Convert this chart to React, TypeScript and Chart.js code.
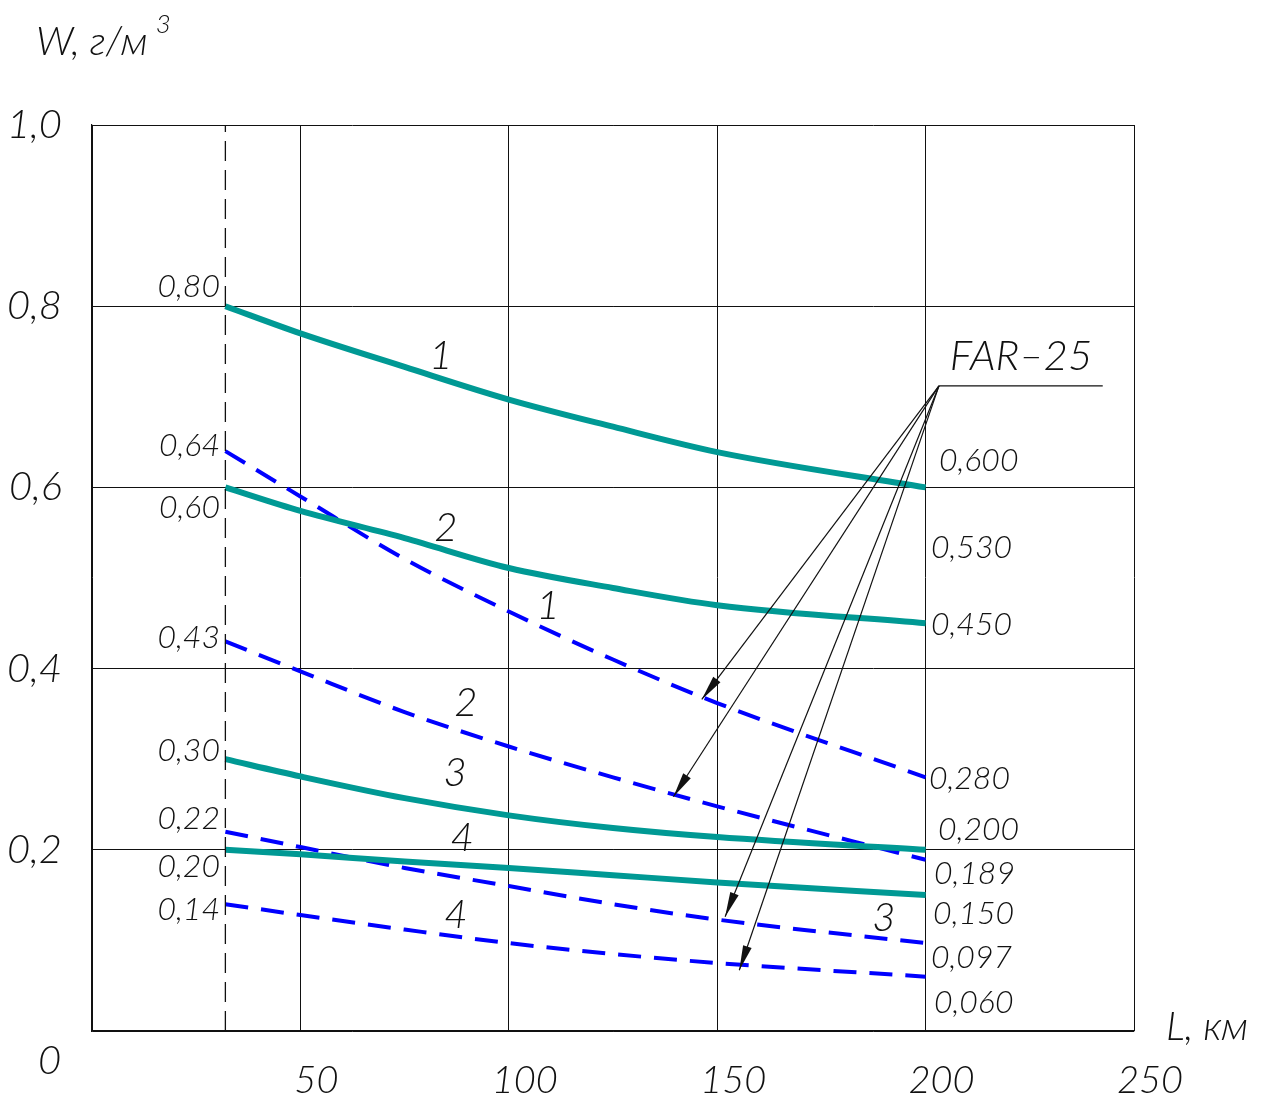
import React, { useEffect, useRef } from "react";
import { Chart, registerables } from "chart.js";

Chart.register(...registerables);

// Distance along the route, km
const distanceKm = [32, 50, 75, 100, 125, 150, 200];

// Solid curves (teal)
const solid1 = [0.8, 0.77, 0.733, 0.697, 0.667, 0.639, 0.6];
const solid2 = [0.6, 0.574, 0.544, 0.511, 0.489, 0.47, 0.45];
const solid3 = [0.3, 0.281, 0.257, 0.238, 0.224, 0.214, 0.2];
const solid4 = [0.2, 0.195, 0.187, 0.18, 0.172, 0.164, 0.15];

// Dashed curves (blue)
const dashed1 = [0.64, 0.59, 0.521, 0.463, 0.41, 0.362, 0.28];
const dashed2 = [0.43, 0.397, 0.352, 0.314, 0.28, 0.248, 0.189];
const dashed3 = [0.22, 0.203, 0.18, 0.16, 0.14, 0.123, 0.097];
const dashed4 = [0.14, 0.128, 0.112, 0.097, 0.085, 0.075, 0.06];

// Axis ticks
const xTicks = [0, 50, 100, 150, 200, 250];
const yTicks = [0, 0.2, 0.4, 0.6, 0.8, 1.0];

// Reference distance (vertical dashed line), km
const referenceKm = 32;

// Value labels at the start of the curves: text, anchor (km, W)
const leftLabels: [string, number, number][] = [
  ["0,80", 30.7, 0.822],
  ["0,64", 30.7, 0.646],
  ["0,60", 30.7, 0.578],
  ["0,43", 30.7, 0.434],
  ["0,30", 30.7, 0.309],
  ["0,22", 30.7, 0.234],
  ["0,20", 30.7, 0.181],
  ["0,14", 30.7, 0.134],
];

// Value labels at the end of the curves: text, anchor (km, W)
const rightLabels: [string, number, number][] = [
  ["0,600", 203.2, 0.629],
  ["0,530", 201.3, 0.534],
  ["0,450", 201.3, 0.448],
  ["0,280", 200.8, 0.279],
  ["0,200", 203.0, 0.222],
  ["0,189", 202.0, 0.174],
  ["0,150", 201.8, 0.129],
  ["0,097", 201.3, 0.081],
  ["0,060", 202.0, 0.031],
];

// Curve numbers: text, centre (km, W)
const curveNumbers: [string, number, number][] = [
  ["1", 83.7, 0.745],
  ["2", 84.9, 0.555],
  ["3", 87.1, 0.285],
  ["4", 88.8, 0.213],
  ["1", 109.4, 0.469],
  ["2", 89.7, 0.362],
  ["3", 190.0, 0.125],
  ["4", 87.3, 0.128],
];

// FAR-25 callout: leader origin, shelf end and arrow tips (km, W)
const calloutOrigin: [number, number] = [203.2, 0.712];
const calloutShelfEndKm = 242.5;
const calloutTextPos: [number, number] = [222.9, 0.744];
const calloutTips: [number, number][] = [
  [146.3, 0.366],
  [139.5, 0.2586],
  [151.9, 0.126],
  [155.3, 0.067],
];

const TEAL = "#009994";
const BLUE = "#0000ff";
const INK = "#111111";
const FONT = "Lato, 'DejaVu Sans', sans-serif";

const toPoints = (ys: number[]) => distanceKm.map((x, i) => ({ x, y: ys[i] }));

const fmtTick = (v: number) => v.toFixed(1).replace(".", ",");

const annotationsPlugin = {
  id: "drawingAnnotations",
  afterDraw(chart: any) {
    const { ctx } = chart;
    const xs = chart.scales.x;
    const ys = chart.scales.y;
    const P = (km: number, w: number): [number, number] => [xs.getPixelForValue(km), ys.getPixelForValue(w)];

    ctx.save();
    ctx.fillStyle = INK;
    ctx.textBaseline = "middle";

    // curve numbers
    ctx.font = `italic 300 40px ${FONT}`;
    ctx.textAlign = "center";
    curveNumbers.forEach(([t, km, w]) => {
      const [x, y] = P(km, w);
      ctx.fillText(t, x, y);
    });

    // start values
    ctx.font = `italic 300 32px ${FONT}`;
    ctx.textAlign = "right";
    leftLabels.forEach(([t, km, w]) => {
      const [x, y] = P(km, w);
      ctx.fillText(t, x, y);
    });

    // end values
    ctx.textAlign = "left";
    rightLabels.forEach(([t, km, w]) => {
      const [x, y] = P(km, w);
      ctx.fillText(t, x, y);
    });

    // FAR-25 callout
    const [ox, oy] = P(calloutOrigin[0], calloutOrigin[1]);
    const [sx] = P(calloutShelfEndKm, calloutOrigin[1]);
    ctx.strokeStyle = INK;
    ctx.lineWidth = 1.2;
    ctx.beginPath();
    ctx.moveTo(ox, oy);
    ctx.lineTo(sx, oy);
    ctx.stroke();
    ctx.font = `italic 300 42px ${FONT}`;
    ctx.textAlign = "center";
    const [tx, ty] = P(calloutTextPos[0], calloutTextPos[1]);
    ctx.fillText("FAR–25", tx, ty);

    calloutTips.forEach(([km, w]) => {
      const [ex, ey] = P(km, w);
      ctx.beginPath();
      ctx.moveTo(ox, oy);
      ctx.lineTo(ex, ey);
      ctx.stroke();
      const ang = Math.atan2(ey - oy, ex - ox);
      const len = 25;
      const half = 4.5;
      const bx = ex - len * Math.cos(ang);
      const by = ey - len * Math.sin(ang);
      ctx.beginPath();
      ctx.moveTo(ex, ey);
      ctx.lineTo(bx + half * Math.sin(ang), by - half * Math.cos(ang));
      ctx.lineTo(bx - half * Math.sin(ang), by + half * Math.cos(ang));
      ctx.closePath();
      ctx.fill();
    });

    // axis titles and origin
    ctx.textAlign = "left";
    ctx.textBaseline = "alphabetic";
    ctx.font = `italic 300 40px ${FONT}`;
    const wTitle = "W, г/м";
    ctx.fillText(wTitle, 36, 55);
    const titleEnd = 36 + ctx.measureText(wTitle).width;
    ctx.font = `italic 300 26px ${FONT}`;
    ctx.fillText("3", titleEnd + 8, 33);
    ctx.font = `italic 300 40px ${FONT}`;
    ctx.fillText("L, км", 1166, 1040);
    ctx.fillText("0", 38, 1074);

    ctx.restore();
  },
};

export default function App() {
  const canvasRef = useRef<HTMLCanvasElement | null>(null);

  useEffect(() => {
    const canvas = canvasRef.current;
    if (!canvas) return;

    const solidStyle = {
      borderColor: TEAL,
      borderWidth: 6,
      pointRadius: 0,
      fill: false,
      cubicInterpolationMode: "monotone" as const,
      borderCapStyle: "butt" as const,
    };
    const dashedStyle = {
      borderColor: BLUE,
      borderWidth: 4,
      borderDash: [23, 13],
      pointRadius: 0,
      fill: false,
      cubicInterpolationMode: "monotone" as const,
    };

    const chart = new Chart(canvas, {
      type: "line",
      data: {
        datasets: [
          {
            label: "ref",
            data: [
              { x: referenceKm, y: 0 },
              { x: referenceKm, y: 1 },
            ],
            borderColor: INK,
            borderWidth: 1.3,
            borderDash: [20, 9],
            pointRadius: 0,
            fill: false,
          },
          { label: "1", data: toPoints(solid1), ...solidStyle },
          { label: "2", data: toPoints(solid2), ...solidStyle },
          { label: "3", data: toPoints(solid3), ...solidStyle },
          { label: "4", data: toPoints(solid4), ...solidStyle },
          { label: "1'", data: toPoints(dashed1), ...dashedStyle },
          { label: "2'", data: toPoints(dashed2), ...dashedStyle },
          { label: "3'", data: toPoints(dashed3), ...dashedStyle },
          { label: "4'", data: toPoints(dashed4), ...dashedStyle },
        ],
      },
      options: {
        animation: false,
        responsive: false,
        maintainAspectRatio: false,
        layout: { padding: { top: 125, right: 135, left: 0, bottom: 0 } },
        plugins: { legend: { display: false }, tooltip: { enabled: false } },
        scales: {
          x: {
            type: "linear",
            min: 0,
            max: 250,
            afterBuildTicks: (s: any) => {
              s.ticks = xTicks.map((value) => ({ value }));
            },
            afterFit: (s: any) => {
              s.height = 68;
            },
            grid: { color: INK, lineWidth: 1, drawTicks: false },
            border: { display: true, color: INK, width: 1.2 },
            ticks: {
              callback: (v: any) => (Number(v) === 0 ? "" : String(v)),
              labelOffset: 16,
              padding: 27,
              maxRotation: 0,
              autoSkip: false,
              color: INK,
              font: { family: FONT, size: 38, style: "italic", weight: "300" },
            },
          },
          y: {
            type: "linear",
            min: 0,
            max: 1,
            afterBuildTicks: (s: any) => {
              s.ticks = yTicks.map((value) => ({ value }));
            },
            afterFit: (s: any) => {
              s.width = 92;
            },
            grid: { color: INK, lineWidth: 1, drawTicks: false },
            border: { display: true, color: INK, width: 1.2 },
            ticks: {
              callback: (v: any) => (Number(v) === 0 ? "" : fmtTick(Number(v))),
              padding: 30,
              autoSkip: false,
              color: INK,
              font: { family: FONT, size: 40, style: "italic", weight: "300" },
            },
          },
        },
      },
      plugins: [annotationsPlugin],
    } as any);

    return () => chart.destroy();
  }, []);

  return (
    <div style={{ position: "absolute", left: 0, top: 0, width: 1269, height: 1099, background: "#fff" }}>
      <canvas ref={canvasRef} width={1269} height={1099} style={{ width: 1269, height: 1099, display: "block" }} />
    </div>
  );
}
